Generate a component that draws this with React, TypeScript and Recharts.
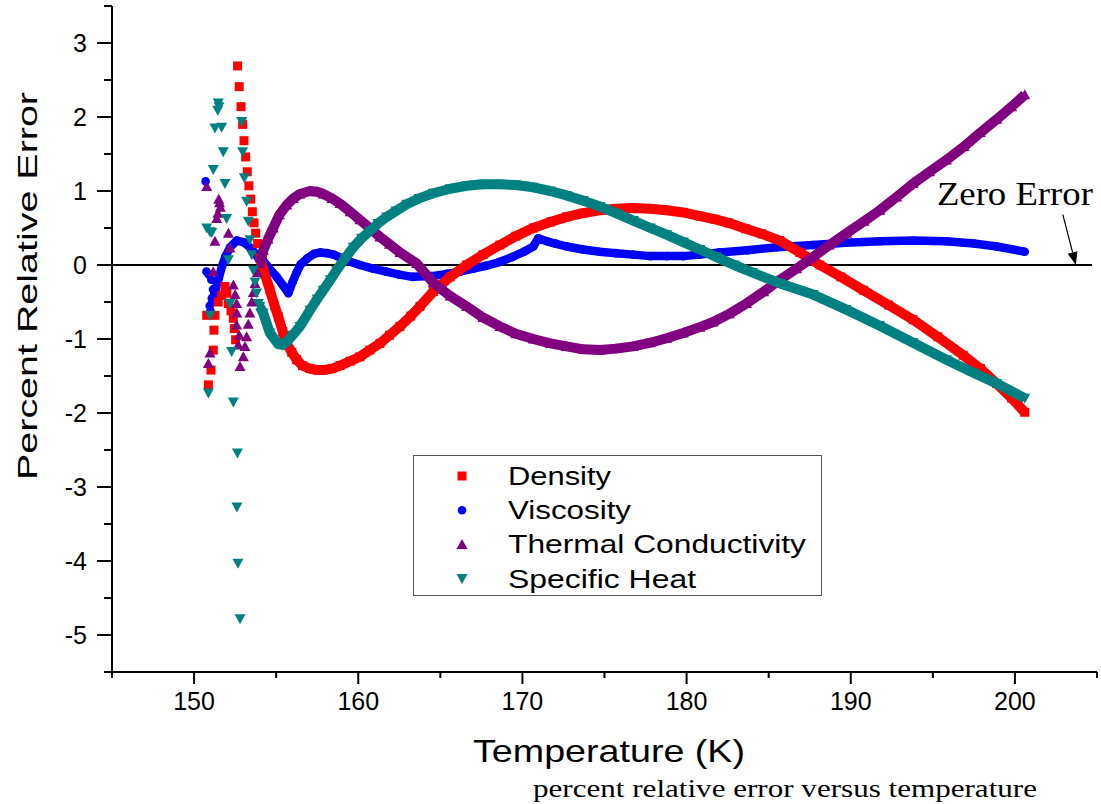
import React from "react";
import { ScatterChart, Scatter, XAxis, YAxis, ReferenceLine, ReferenceDot } from "recharts";

// [temperature K, percent relative error]

const densityNoise = [
  [150.77, -0.68], [150.87, -1.62], [151.03, -1.42], [151.17, -1.15], [151.21, -0.88],
  [151.27, -0.68], [151.47, -0.5], [151.68, -0.41], [151.88, -0.29], [152.0, -0.38],
  [152.09, -0.52], [152.25, -0.62], [152.39, -0.72], [152.45, -0.86], [152.53, -1.01],
];
const densityColumn = [
  [152.65, 2.69], [152.75, 2.41], [152.86, 2.14], [152.96, 1.9], [153.04, 1.68],
  [153.14, 1.46], [153.24, 1.26], [153.34, 1.07], [153.45, 0.89], [153.55, 0.72],
  [153.65, 0.57], [153.75, 0.43], [153.87, 0.29],
];
const densityCurve = [
  [154.0, 0.1], [154.3, -0.12], [154.62, -0.34], [154.9, -0.55], [155.13, -0.7],
  [155.4, -0.9], [155.64, -1.06], [155.95, -1.18], [156.25, -1.28], [156.6, -1.36],
  [157.06, -1.4], [157.5, -1.42], [157.87, -1.42], [158.4, -1.4], [158.89, -1.36],
  [159.5, -1.3], [160.1, -1.24], [160.7, -1.15], [161.32, -1.06], [161.9, -0.95],
  [162.54, -0.83], [163.2, -0.69], [163.76, -0.56], [164.57, -0.36], [165.6, -0.16],
  [166.6, 0.0], [167.6, 0.14], [168.63, 0.27], [169.6, 0.39], [170.66, 0.5],
  [171.7, 0.58], [172.69, 0.65], [173.7, 0.7], [174.72, 0.74], [175.7, 0.76],
  [176.75, 0.77], [177.8, 0.76], [178.78, 0.74], [179.8, 0.71], [180.81, 0.66],
  [181.7, 0.62], [182.55, 0.57], [183.6, 0.49], [184.6, 0.42], [185.68, 0.33],
  [186.9, 0.17], [188.12, 0.0], [189.4, -0.16], [190.76, -0.34], [192.3, -0.54],
  [193.8, -0.74], [195.3, -0.97], [196.85, -1.22], [197.9, -1.4], [198.88, -1.6],
  [199.8, -1.8], [200.6, -1.99],
];

const viscosityNoise = [
  [150.7, 1.13], [150.75, -0.09], [150.9, -0.13], [151.05, -0.2], [151.15, -0.33],
  [151.08, -0.45], [150.95, -0.55], [151.0, -0.62],
];
const viscosityCurve = [
  [151.1, -0.5], [151.3, -0.33], [151.5, -0.18], [151.7, -0.02], [151.9, 0.11],
  [152.2, 0.24], [152.6, 0.33], [153.0, 0.31], [153.5, 0.22], [153.9, 0.1],
  [154.2, 0.06], [154.6, -0.05], [155.03, -0.16], [155.4, -0.27], [155.74, -0.38],
  [156.0, -0.23], [156.25, -0.1], [156.5, 0.01], [156.9, 0.09], [157.3, 0.15],
  [157.7, 0.17], [158.1, 0.16], [158.5, 0.14], [158.9, 0.1], [159.3, 0.06],
  [160.1, 0.0], [160.9, -0.05], [161.7, -0.09], [162.5, -0.13], [163.3, -0.16],
  [164.5, -0.15], [165.4, -0.12], [166.2, -0.09], [167.0, -0.05], [167.8, -0.01],
  [168.6, 0.04], [169.4, 0.11], [170.1, 0.18], [170.66, 0.25], [170.96, 0.36],
  [171.5, 0.32], [172.0, 0.29], [172.7, 0.25], [173.7, 0.21], [174.7, 0.18],
  [175.7, 0.16], [176.75, 0.14], [177.8, 0.12], [178.8, 0.12], [179.8, 0.12],
  [180.8, 0.14], [182.0, 0.17], [183.7, 0.2], [185.5, 0.24], [187.7, 0.27],
  [189.7, 0.3], [191.8, 0.32], [193.8, 0.33], [195.8, 0.32], [197.5, 0.29],
  [198.9, 0.25], [200.6, 0.18],
];

const thermalNoise = [
  [150.77, 1.06], [151.5, 0.89], [151.55, 0.84], [151.6, 0.78], [151.45, 0.7],
  [151.38, 0.63], [152.09, 0.43], [151.27, 0.32], [152.19, 0.23], [151.17, -0.09],
  [152.39, -0.27], [152.5, -0.4], [152.59, -0.52], [152.6, -0.65], [152.59, -0.81],
  [152.75, -0.95], [152.69, -1.08], [153.0, -1.24], [152.8, -1.37], [150.97, -1.19],
  [150.87, -1.33],
];
const thermalColumn = [
  [153.1, -1.1], [153.2, -0.97], [153.3, -0.8], [153.4, -0.65], [153.51, -0.5],
  [153.61, -0.37], [153.71, -0.25], [153.85, -0.1],
];
const thermalCurve = [
  [154.01, 0.02], [154.22, 0.2], [154.5, 0.35], [154.82, 0.5], [155.2, 0.68],
  [155.64, 0.81], [156.05, 0.9], [156.45, 0.96], [157.06, 1.0], [157.5, 0.99],
  [157.87, 0.96], [158.4, 0.9], [158.89, 0.83], [159.5, 0.72], [160.1, 0.61],
  [160.7, 0.5], [161.32, 0.38], [161.9, 0.28], [162.54, 0.17], [163.56, 0.02],
  [164.57, -0.24], [165.6, -0.42], [166.6, -0.56], [167.6, -0.71], [168.63, -0.83],
  [169.6, -0.93], [170.66, -1.0], [171.7, -1.06], [172.69, -1.1], [173.7, -1.14],
  [174.72, -1.15], [175.7, -1.13], [176.75, -1.1], [177.8, -1.05], [178.78, -0.99],
  [179.8, -0.92], [180.81, -0.84], [181.62, -0.77], [182.6, -0.66], [183.65, -0.52],
  [184.7, -0.36], [185.68, -0.2], [186.7, -0.05], [187.71, 0.11], [188.7, 0.27],
  [189.75, 0.43], [190.8, 0.59], [191.77, 0.74], [192.8, 0.92], [193.8, 1.1],
  [194.8, 1.26], [195.83, 1.42], [196.9, 1.6], [197.9, 1.79], [198.9, 1.97],
  [199.8, 2.14], [200.6, 2.3],
];

const heatNoise = [
  [151.47, 2.19], [151.44, 2.09], [151.52, 2.14], [151.27, 1.85], [151.68, 1.86],
  [151.78, 1.53], [151.17, 1.29], [151.88, 1.1], [151.98, 0.63], [150.77, 0.5],
  [151.07, 0.44], [150.97, 0.45], [152.09, 0.07], [152.19, -0.52], [150.97, -0.68],
  [152.29, -1.17], [150.87, -1.73], [152.39, -1.85], [152.64, -2.54], [152.61, -3.27],
  [152.67, -4.03], [152.8, -4.78],
];
const heatColumn = [
  [152.9, 1.94], [152.96, 1.53], [153.06, 1.18], [153.2, 0.86], [153.3, 0.59],
  [153.4, 0.34], [153.51, 0.14], [153.61, -0.07], [153.71, -0.23], [153.81, -0.38],
  [153.91, -0.52],
];
const heatCurve = [
  [154.0, -0.56], [154.21, -0.65], [154.62, -0.92], [155.13, -1.07], [155.4, -1.08],
  [155.64, -1.04], [156.0, -0.95], [156.45, -0.83], [157.06, -0.61], [157.5, -0.46],
  [157.87, -0.34], [158.3, -0.2], [158.68, -0.07], [159.2, 0.09], [159.7, 0.24],
  [160.2, 0.36], [160.71, 0.46], [161.2, 0.56], [161.73, 0.65], [162.3, 0.73],
  [162.95, 0.82], [163.7, 0.9], [164.57, 0.97], [165.6, 1.03], [166.6, 1.07],
  [167.6, 1.09], [168.63, 1.09], [169.6, 1.08], [170.66, 1.05], [171.7, 1.0],
  [172.69, 0.94], [173.7, 0.87], [174.72, 0.79], [175.7, 0.7], [176.75, 0.6],
  [177.8, 0.5], [178.78, 0.41], [179.8, 0.31], [180.81, 0.21], [181.8, 0.11],
  [182.9, 0.0], [184.0, -0.1], [185.7, -0.25], [187.71, -0.4], [189.7, -0.6],
  [191.77, -0.82], [193.8, -1.05], [195.83, -1.28], [197.5, -1.46], [198.88, -1.6],
  [200.6, -1.8],
];

const xTicks = [145, 150, 155, 160, 165, 170, 175, 180, 185, 190, 195, 200, 205];
const xLabelled = [150, 160, 170, 180, 190, 200];
const yTicks = [-5.5, -5, -4.5, -4, -3.5, -3, -2.5, -2, -1.5, -1, -0.5, 0, 0.5, 1, 1.5, 2, 2.5, 3, 3.5];

const legendNames = ["Density", "Viscosity", "Thermal Conductivity", "Specific Heat"];
const legendWidths = [103, 123, 298, 188];

const RED = "#ff0000";
const BLUE = "#0000ff";
const PURPLE = "#800080";
const TEAL = "#008080";
const SANS = "'Liberation Sans', Arial, sans-serif";
const SERIF = "'Liberation Serif', 'Times New Roman', serif";

const pts = (a: number[][]) => a.map(([t, v]) => ({ t, v }));

function marker(kind: string, color: string, cx: number, cy: number) {
  if (kind === "square") return <rect x={cx - 4.5} y={cy - 4.5} width={9} height={9} fill={color} />;
  if (kind === "circle") return <circle cx={cx} cy={cy} r={4.3} fill={color} />;
  if (kind === "up")
    return <polygon points={`${cx},${cy - 5.5} ${cx + 5.5},${cy + 4.5} ${cx - 5.5},${cy + 4.5}`} fill={color} />;
  return <polygon points={`${cx - 5.5},${cy - 4.5} ${cx + 5.5},${cy - 4.5} ${cx},${cy + 5.5}`} fill={color} />;
}

const shapeOf = (kind: string, color: string) => (p: any) => marker(kind, color, p.cx, p.cy);

function XTick(props: any) {
  const { x, y, payload } = props;
  const major = xLabelled.includes(payload.value);
  return (
    <g>
      <line x1={x} x2={x} y1={y} y2={y + (major ? 12 : 6)} stroke="#000" strokeWidth={2} />
      {major && (
        <text x={x} y={y + 38} textAnchor="middle" fontSize={25} fontFamily={SANS} fill="#000">
          {payload.value}
        </text>
      )}
    </g>
  );
}

function YTick(props: any) {
  const { x, y, payload } = props;
  const major = Number.isInteger(payload.value);
  return (
    <g>
      <line x1={x} x2={x - (major ? 15 : 8)} y1={y} y2={y} stroke="#000" strokeWidth={2} />
      {major && (
        <text x={x - 25} y={y + 9} textAnchor="end" fontSize={25} fontFamily={SANS} fill="#000">
          {payload.value}
        </text>
      )}
    </g>
  );
}

function Arrow(props: any) {
  const { x1, y1, x2, y2 } = props;
  const dx = x2 - x1;
  const dy = y2 - y1;
  const len = Math.sqrt(dx * dx + dy * dy);
  const ux = dx / len;
  const uy = dy / len;
  const bx = x2 - ux * 13;
  const by = y2 - uy * 13;
  return (
    <g>
      <line x1={x1} y1={y1} x2={bx} y2={by} stroke="#000" strokeWidth={1.2} />
      <polygon
        points={`${x2},${y2} ${bx - uy * 5},${by + ux * 5} ${bx + uy * 5},${by - ux * 5}`}
        fill="#000"
      />
    </g>
  );
}

const legendKinds = [
  ["square", RED],
  ["circle", BLUE],
  ["up", PURPLE],
  ["down", TEAL],
];

export default function App() {
  return (
    <div style={{ position: "absolute", left: 0, top: 0, width: 1101, height: 804, background: "#fff" }}>
      <ScatterChart width={1101} height={804} margin={{ top: 6, right: 4, left: 0, bottom: 0 }}>
        <XAxis
          type="number"
          dataKey="t"
          domain={[145, 205]}
          ticks={xTicks}
          interval={0}
          allowDataOverflow
          height={132}
          tickSize={0}
          tickMargin={0}
          tickLine={false}
          tick={<XTick />}
          axisLine={{ stroke: "#000", strokeWidth: 2 }}
        />
        <YAxis
          type="number"
          dataKey="v"
          domain={[-5.5, 3.5]}
          ticks={yTicks}
          interval={0}
          allowDataOverflow
          width={112}
          tickSize={0}
          tickMargin={0}
          tickLine={false}
          tick={<YTick />}
          axisLine={{ stroke: "#000", strokeWidth: 2 }}
        />
        <Scatter data={pts(viscosityNoise)} shape={shapeOf("circle", BLUE)} isAnimationActive={false} />
        <Scatter
          data={pts(viscosityCurve)}
          shape={shapeOf("circle", BLUE)}
          line={{ stroke: BLUE, strokeWidth: 8.5, strokeLinejoin: "round" }}
          lineType="joint"
          isAnimationActive={false}
        />
        <Scatter data={pts(densityNoise)} shape={shapeOf("square", RED)} isAnimationActive={false} />
        <Scatter data={pts(densityColumn)} shape={shapeOf("square", RED)} isAnimationActive={false} />
        <Scatter
          data={pts(densityCurve)}
          shape={shapeOf("square", RED)}
          line={{ stroke: RED, strokeWidth: 10, strokeLinejoin: "round" }}
          lineType="joint"
          isAnimationActive={false}
        />
        <Scatter data={pts(thermalNoise)} shape={shapeOf("up", PURPLE)} isAnimationActive={false} />
        <Scatter data={pts(thermalColumn)} shape={shapeOf("up", PURPLE)} isAnimationActive={false} />
        <Scatter
          data={pts(thermalCurve)}
          shape={shapeOf("up", PURPLE)}
          line={{ stroke: PURPLE, strokeWidth: 10, strokeLinejoin: "round" }}
          lineType="joint"
          isAnimationActive={false}
        />
        <Scatter data={pts(heatNoise)} shape={shapeOf("down", TEAL)} isAnimationActive={false} />
        <Scatter data={pts(heatColumn)} shape={shapeOf("down", TEAL)} isAnimationActive={false} />
        <Scatter
          data={pts(heatCurve)}
          shape={shapeOf("down", TEAL)}
          line={{ stroke: TEAL, strokeWidth: 10, strokeLinejoin: "round" }}
          lineType="joint"
          isAnimationActive={false}
        />
        <ReferenceLine
          segment={[{ x: 145, y: 0 }, { x: 204.7, y: 0 }]}
          stroke="#000"
          strokeWidth={2}
        />
        <ReferenceLine
          segment={[{ x: 202.92, y: 0.68 }, { x: 203.71, y: 0 }]}
          shape={(p: any) => <Arrow {...p} />}
        />
        <ReferenceDot
          x={200}
          y={0.96}
          r={0}
          shape={(p: any) => (
            <text
              x={p.cx}
              y={p.cy + 11}
              textAnchor="middle"
              fontSize={33}
              fontFamily={SERIF}
              textLength={156}
              lengthAdjust="spacingAndGlyphs"
              fill="#000"
            >
              Zero Error
            </text>
          )}
        />
      </ScatterChart>
      <svg
        width={1101}
        height={804}
        style={{ position: "absolute", left: 0, top: 0, pointerEvents: "none" }}
      >
        <rect x={413.5} y={455.5} width={408} height={140} fill="#fff" stroke="#555" strokeWidth={1} />
        {legendNames.map((name, i) => {
          const cy = 476 + i * 34.2;
          return (
            <g key={name}>
              {marker(legendKinds[i][0], legendKinds[i][1], 462, cy)}
              <text
                x={508}
                y={cy + 9}
                fontSize={25}
                fontFamily={SANS}
                textLength={legendWidths[i]}
                lengthAdjust="spacingAndGlyphs"
                fill="#000"
              >
                {name}
              </text>
            </g>
          );
        })}
        <text
          x={609}
          y={762}
          textAnchor="middle"
          fontSize={32}
          fontFamily={SANS}
          textLength={272}
          lengthAdjust="spacingAndGlyphs"
          fill="#000"
        >
          Temperature (K)
        </text>
        <text
          transform="translate(37,286) rotate(-90)"
          textAnchor="middle"
          fontSize={28}
          fontFamily={SANS}
          textLength={388}
          lengthAdjust="spacingAndGlyphs"
          fill="#000"
        >
          Percent Relative Error
        </text>
        <text
          x={785}
          y={797}
          textAnchor="middle"
          fontSize={26}
          fontFamily={SERIF}
          textLength={504}
          lengthAdjust="spacingAndGlyphs"
          fill="#000"
        >
          percent relative error versus temperature
        </text>
      </svg>
    </div>
  );
}
